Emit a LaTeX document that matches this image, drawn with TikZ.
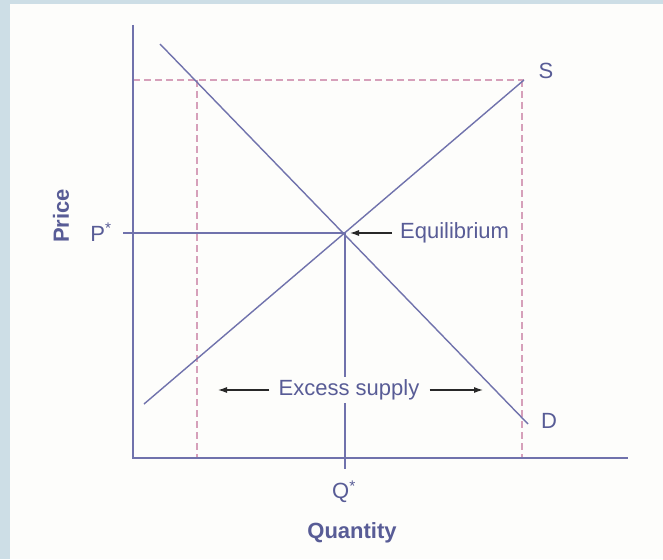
\documentclass[tikz,border=0pt]{standalone}
\usepackage{fontspec}
\setmainfont{Liberation Sans}
\usetikzlibrary{arrows.meta}
\definecolor{bord}{RGB}{205,222,230}
\definecolor{paper}{RGB}{253,253,251}
\definecolor{curve}{RGB}{112,114,172}
\definecolor{txt}{RGB}{88,92,150}
\definecolor{pinkd}{RGB}{214,160,186}
\definecolor{arr}{RGB}{40,40,40}
\tikzset{
  axisline/.style={draw=curve, line width=1.4pt},
  curveline/.style={draw=curve, line width=1.4pt},
  dashline/.style={draw=pinkd, line width=1.4pt, dash pattern=on 7pt off 4pt},
  lbl/.style={text=txt, font=\fontsize{22}{26}\selectfont, inner sep=0pt},
  blbl/.style={text=txt, font=\fontsize{22}{26}\selectfont\bfseries, inner sep=0pt},
  pointer/.style={draw=arr, line width=1.1pt, -{Latex[length=9pt,width=6pt]}}
}
\begin{document}
\begin{tikzpicture}[x=1pt,y=-1pt]
\useasboundingbox (0,0) rectangle (663,559);
\fill[bord] (0,0) rectangle (663,559);
\fill[paper] (10,4) rectangle (663,559);
% coordinates
\coordinate (ytop) at (133,25);
\coordinate (orig) at (133,458);
\coordinate (xend) at (628,458);
\coordinate (dA) at (160,44);
\coordinate (dB) at (528,424);
\coordinate (sA) at (144,404);
\coordinate (sB) at (524,80);
\coordinate (eq) at (345,233);
\coordinate (pst) at (123,233);
\coordinate (qbot) at (345,469);
\coordinate (hl) at (133,80);
\coordinate (hr) at (524,80);
\coordinate (v1t) at (197,80);
\coordinate (v1b) at (197,458);
\coordinate (v2t) at (522,80);
\coordinate (v2b) at (522,458);
% dashed
\draw[dashline] (hl) -- (hr);
\draw[dashline] (v1t) -- (v1b);
\draw[dashline] (v2t) -- (v2b);
% axes
\draw[axisline] (ytop) -- (orig) -- (xend);
% curves
\draw[curveline] (dA) -- (dB);
\draw[curveline] (sA) -- (sB);
\draw[curveline] (pst) -- (eq) -- (qbot);
% labels
\node[lbl] (S) at (546,71) {S};
\node[lbl] (D) at (549,421) {D};
\node[lbl] (P) at (101,232) {P\textsuperscript{*}};
\node[lbl] (Q) at (344,492) {Q\textsuperscript{*}};
\node[blbl] (qty) at (352,533) {Quantity};
\node[blbl, rotate=90] (price) at (61,216) {Price};
\node[lbl, anchor=west] (eql) at (400,233) {Equilibrium};
\node[lbl, fill=paper, inner xsep=3pt, inner ysep=3pt] (ex) at (349,390) {Excess supply};
% arrows
\coordinate (eqs) at ([xshift=-8pt]eql.west);
\coordinate (eqe) at ([xshift=5pt]eq);
\draw[pointer] (eqs) -- (eqe);
\coordinate (exl1) at ([xshift=-6pt]ex.west);
\coordinate (exl2) at (218,390);
\coordinate (exr1) at ([xshift=7pt]ex.east);
\coordinate (exr2) at (483,390);
\draw[pointer] (exl1) -- (exl2);
\draw[pointer] (exr1) -- (exr2);
\end{tikzpicture}
\end{document}
